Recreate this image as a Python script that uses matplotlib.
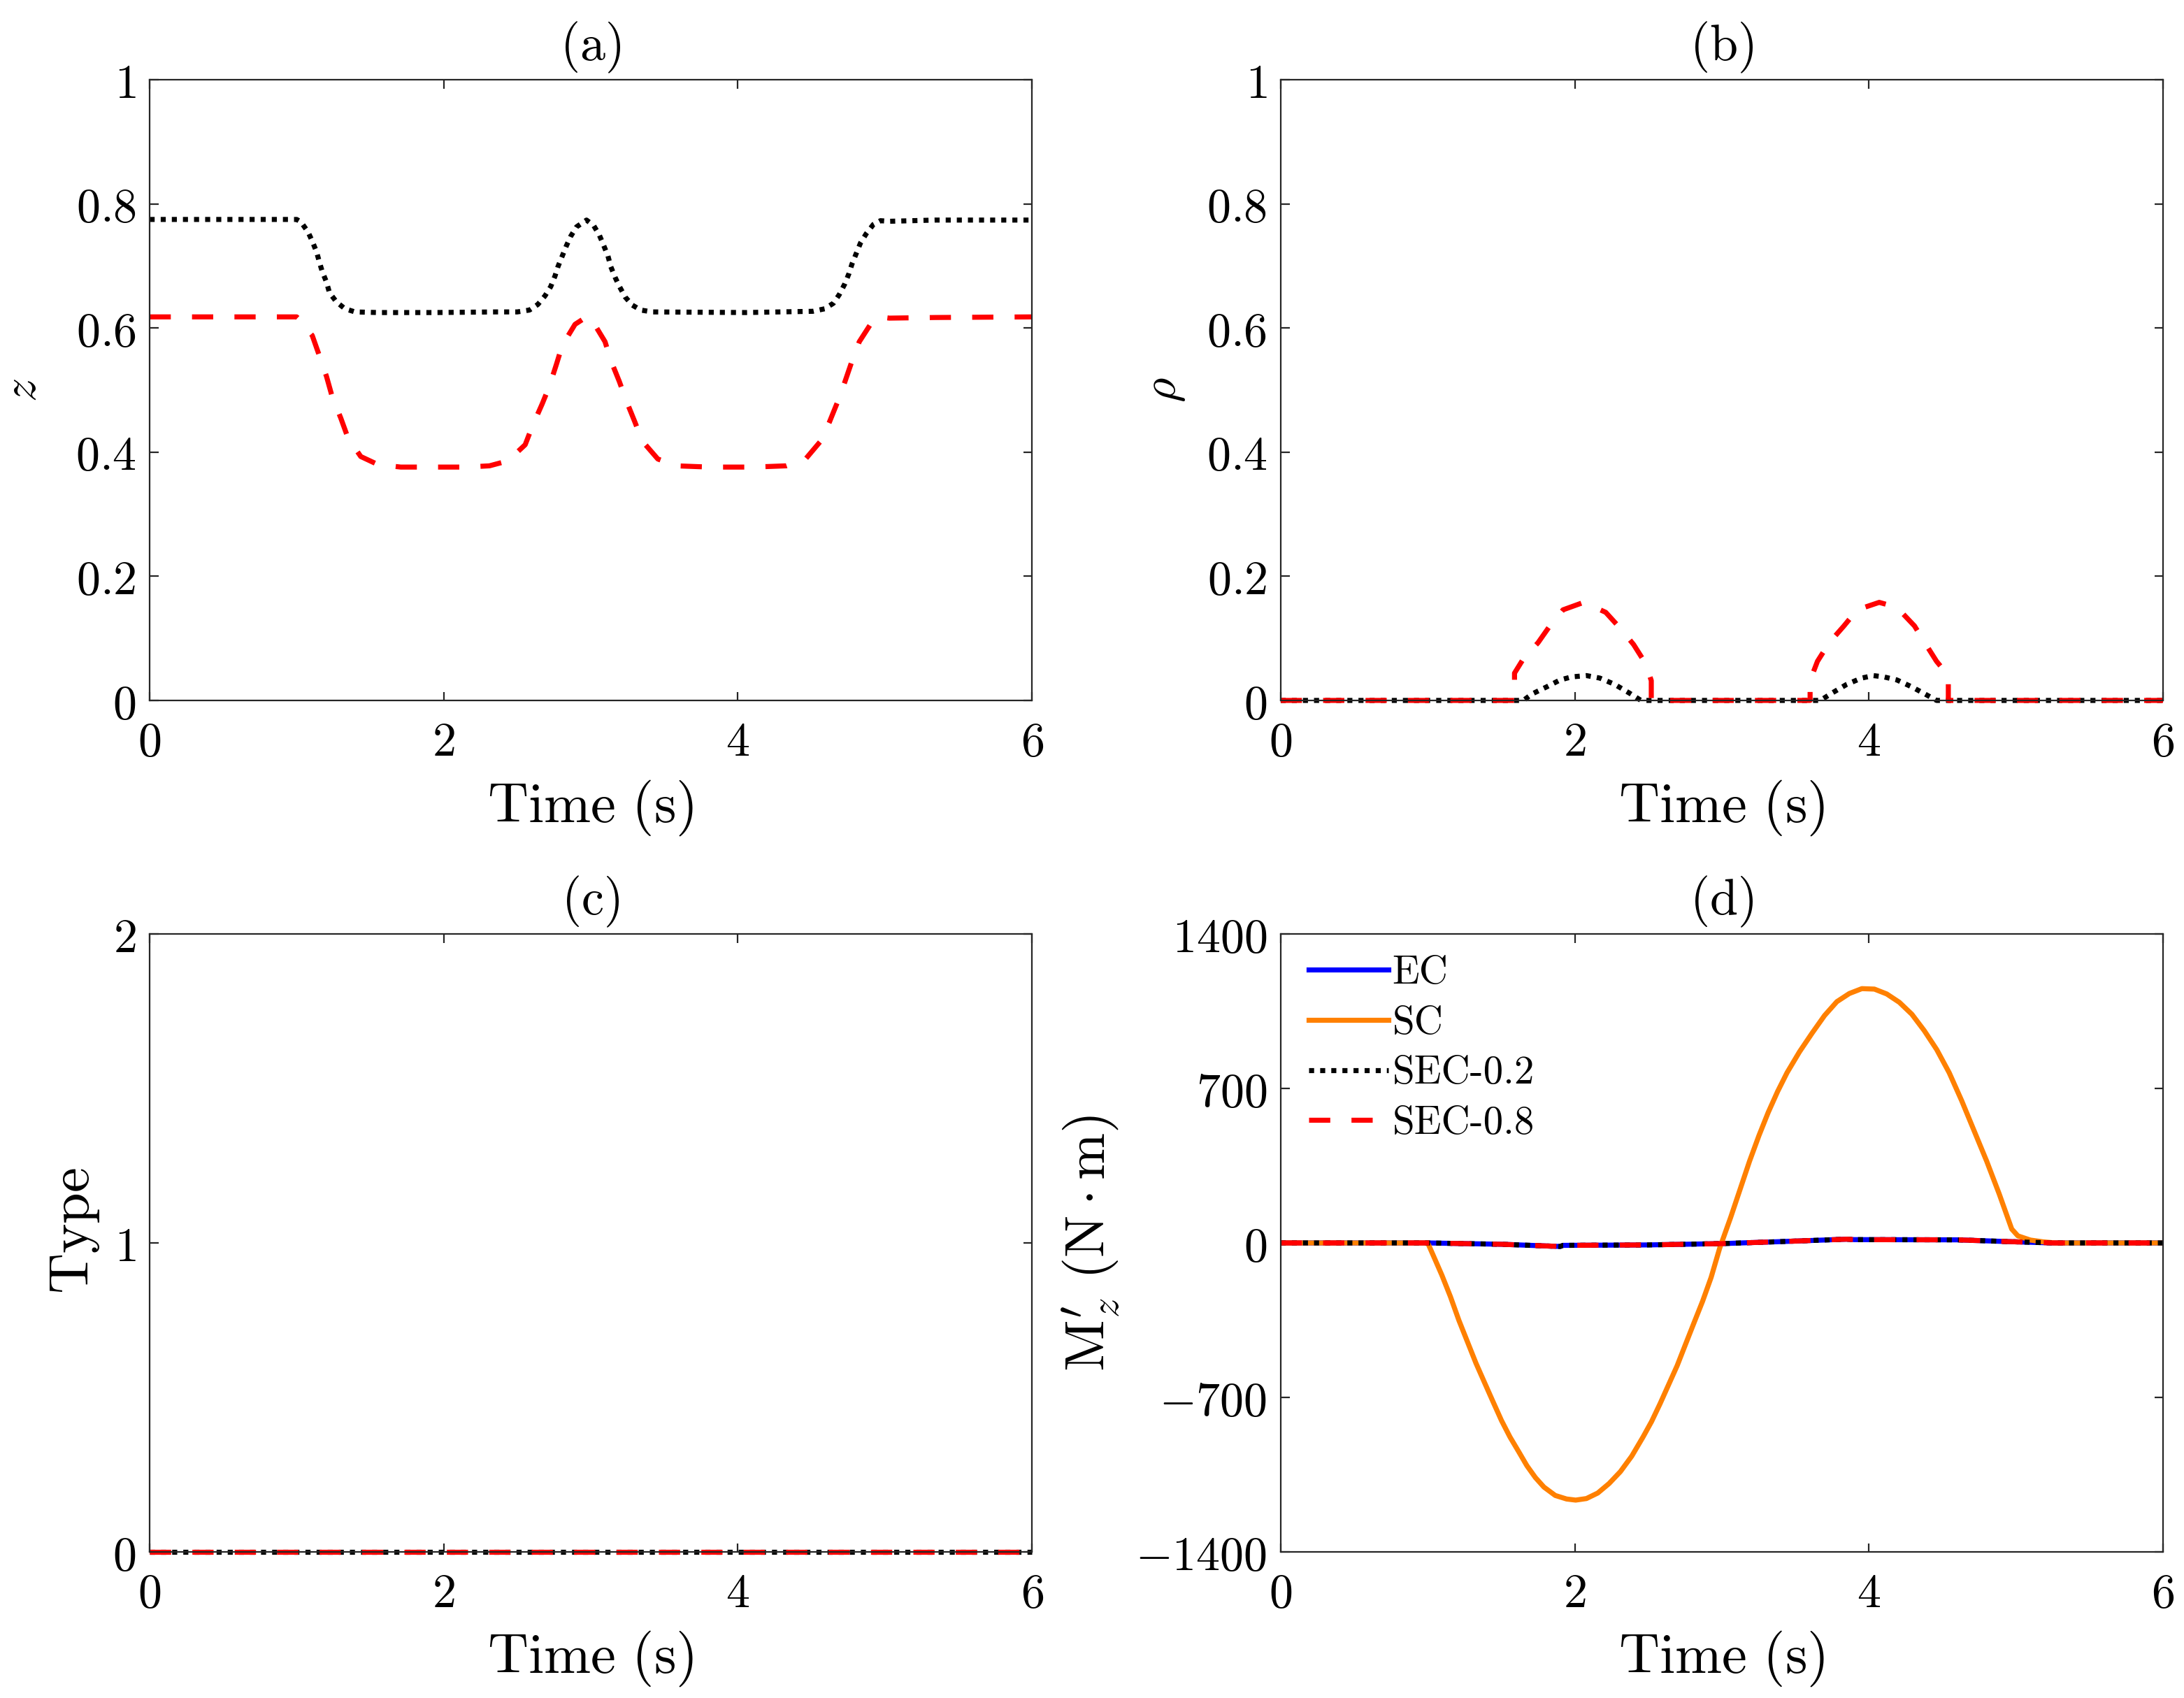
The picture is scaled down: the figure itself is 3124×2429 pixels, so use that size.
import matplotlib
matplotlib.use("Agg")
import matplotlib.pyplot as plt
from matplotlib.font_manager import FontProperties

plt.rcParams['mathtext.fontset'] = 'cm'
plt.rcParams['font.family'] = ['DejaVu Serif']

# ---------------- data ----------------
time_ticks = [0, 2, 4, 6]
time_tick_labels = ['0', '2', '4', '6']

# (a) z
z_sec02_t = [0, 1.0, 1.029, 1.077, 1.106, 1.135, 1.155, 1.174, 1.203, 1.223, 1.271, 1.329, 1.397,
             1.553, 1.94, 2.35, 2.50, 2.583, 2.64, 2.689, 2.728, 2.757, 2.777, 2.806, 2.835, 2.864,
             2.903, 2.971, 3.02, 3.058, 3.088, 3.117, 3.136, 3.165, 3.195, 3.234, 3.282, 3.34,
             3.418, 4.057, 4.51, 4.59, 4.65, 4.69, 4.727, 4.756, 4.776, 4.805, 4.834, 4.873,
             4.922, 4.97, 5.028, 5.34, 6.0]
z_sec02 = [0.775, 0.775, 0.771, 0.755, 0.740, 0.723, 0.706, 0.691, 0.674, 0.657, 0.642, 0.631,
           0.626, 0.625, 0.625, 0.626, 0.626, 0.629, 0.638, 0.652, 0.667, 0.684, 0.699, 0.716,
           0.733, 0.748, 0.763, 0.774, 0.765, 0.750, 0.733, 0.716, 0.699, 0.682, 0.667, 0.650,
           0.637, 0.629, 0.626, 0.625, 0.627, 0.631, 0.640, 0.654, 0.671, 0.688, 0.703, 0.720,
           0.737, 0.752, 0.767, 0.773, 0.772, 0.774, 0.774]
z_sec08_t = [0, 1.0, 1.009, 1.106, 1.155, 1.203, 1.242, 1.300, 1.349, 1.436, 1.553, 1.708, 1.94,
             2.154, 2.311, 2.437, 2.554, 2.603, 2.67, 2.718, 2.767, 2.806, 2.893, 2.971, 3.01,
             3.097, 3.136, 3.194, 3.243, 3.301, 3.35, 3.456, 3.582, 3.805, 4.106, 4.33, 4.457,
             4.564, 4.622, 4.68, 4.729, 4.778, 4.826, 4.913, 4.962, 5.03, 5.34, 6.0]
z_sec08 = [0.618, 0.618, 0.616, 0.588, 0.555, 0.522, 0.489, 0.455, 0.423, 0.393, 0.380, 0.376,
           0.376, 0.376, 0.378, 0.386, 0.412, 0.442, 0.478, 0.506, 0.542, 0.572, 0.606, 0.618,
           0.612, 0.578, 0.548, 0.514, 0.482, 0.448, 0.418, 0.389, 0.378, 0.376, 0.376, 0.378,
           0.388, 0.418, 0.448, 0.482, 0.514, 0.548, 0.578, 0.610, 0.618, 0.616, 0.617, 0.618]
z_ticks = [0, 0.2, 0.4, 0.6, 0.8, 1]
z_tick_labels = ['0', '0.2', '0.4', '0.6', '0.8', '1']

# (b) rho
rho_sec02_t = [0, 1.65, 1.71, 1.81, 1.90, 1.98, 2.08, 2.17, 2.27, 2.37, 2.45,
               3.67, 3.75, 3.85, 3.95, 4.03, 4.10, 4.19, 4.29, 4.38, 4.46, 6.0]
rho_sec02 = [0, 0, 0.0105, 0.022, 0.033, 0.038, 0.040, 0.036, 0.026, 0.012, 0,
             0, 0.012, 0.026, 0.036, 0.040, 0.038, 0.033, 0.022, 0.0105, 0, 0]
rho_sec08_t = [0, 1.59, 1.59, 1.65, 1.75, 1.83, 1.92, 2.06, 2.21, 2.31, 2.40, 2.48, 2.52, 2.52,
               3.60, 3.60, 3.65, 3.73, 3.83, 3.92, 4.07, 4.19, 4.31, 4.38, 4.46, 4.54, 4.54, 6.0]
rho_sec08 = [0, 0, 0.044, 0.067, 0.093, 0.120, 0.146, 0.158, 0.142, 0.116, 0.090, 0.060, 0.032, 0,
             0, 0.032, 0.063, 0.093, 0.120, 0.146, 0.158, 0.150, 0.120, 0.093, 0.063, 0.040, 0, 0]
rho_ticks = z_ticks
rho_tick_labels = z_tick_labels

# (c) Type
type_t = [0, 6]
type_sec02 = [0, 0]
type_sec08 = [0, 0]
type_ticks = [0, 1, 2]
type_tick_labels = ['0', '1', '2']

# (d) Mz'
sc_t = [0, 1.0, 1.039, 1.096, 1.154, 1.212, 1.270, 1.328, 1.385, 1.443, 1.501, 1.559, 1.617,
        1.674, 1.732, 1.790, 1.867, 1.944, 2.006, 2.079, 2.156, 2.233, 2.310, 2.387, 2.464,
        2.522, 2.580, 2.638, 2.696, 2.753, 2.811, 2.869, 2.927, 2.985, 3.060, 3.124, 3.188,
        3.252, 3.315, 3.379, 3.443, 3.528, 3.613, 3.698, 3.782, 3.867, 3.952, 4.037, 4.121,
        4.207, 4.292, 4.376, 4.461, 4.546, 4.631, 4.716, 4.801, 4.886, 4.971, 5.013, 5.098,
        5.183, 5.268, 6.0]
sc = [0, 0, -59, -146, -243, -351, -448, -545, -631, -718, -804, -879, -944, -1009, -1063,
      -1106, -1144, -1160, -1165, -1158, -1133, -1090, -1036, -966, -879, -809, -728, -642,
      -556, -459, -361, -264, -156, -24, 116, 243, 370, 486, 591, 686, 771, 866, 950, 1030,
      1093, 1130, 1152, 1150, 1128, 1090, 1036, 962, 876, 771, 644, 507, 370, 222, 63, 32,
      13, 5, 0, 0]
mz_t = [0, 1.0, 1.5, 1.9, 1.92, 2.5, 3.0, 3.4, 3.85, 3.9, 4.6, 4.95, 5.25, 6.0]
ec = [0, 0, -6, -16, -11, -9, -3, 6, 17, 15, 14, 6, 0, 0]
mz_sec02 = [0, 0, -6, -16, -11, -9, -3, 6, 17, 15, 14, 6, 0, 0]
mz_sec08 = [0, 0, -6, -16, -11, -9, -3, 6, 17, 15, 14, 6, 0, 0]
mz_ticks = [-1400, -700, 0, 700, 1400]
mz_tick_labels = ['-1400', '-700', '0', '700', '1400']

# ---------------- style ----------------
BLUE = '#0000ff'
ORANGE = '#ff8000'
BLACK = '#000000'
RED = '#ff0000'
LW = 2.6
LW_DOT = 2.6
DOT = (0, (1.0, 1.2))
DASH = (0, (4.2, 4.2))
TICK_FS = 24.5
LABEL_FS = 29
TITLE_FS = 26
AXC = '#262626'


def m(s):
    return '$\\mathrm{' + s.replace(' ', '\\ ') + '}$'


fig = plt.figure(figsize=(15.62, 12.145), dpi=200)
pos = {
    'a': [0.0685, 0.5875, 0.404, 0.3655],
    'b': [0.5864, 0.5875, 0.404, 0.3655],
    'c': [0.0685, 0.086, 0.404, 0.364],
    'd': [0.5864, 0.086, 0.404, 0.364],
}
axes = {k: fig.add_axes(v) for k, v in pos.items()}


def style(ax, yticks, ylabels, ylim, title):
    ax.set_xlim(0, 6)
    ax.set_ylim(*ylim)
    ax.set_xticks(time_ticks)
    ax.set_xticklabels([m(t) for t in time_tick_labels])
    ax.set_yticks(yticks)
    ax.set_yticklabels(['$' + t + '$' for t in ylabels])
    ax.tick_params(direction='in', top=True, right=True, length=4.5, width=0.8,
                   labelsize=TICK_FS, color=AXC)
    ax.tick_params(axis='x', pad=10)
    ax.tick_params(axis='y', pad=7)
    for sp in ax.spines.values():
        sp.set_linewidth(0.8)
        sp.set_color(AXC)
    ax.set_title(m(title), fontsize=TITLE_FS, pad=10)
    ax.set_xlabel(m('Time (s)'), fontsize=LABEL_FS)
    ax.xaxis.set_label_coords(0.5, -0.125)


# (a)
ax = axes['a']
ax.plot(z_sec02_t, z_sec02, color=BLACK, lw=LW_DOT, linestyle=DOT)
ax.plot(z_sec08_t, z_sec08, color=RED, lw=LW, linestyle=DASH)
style(ax, z_ticks, z_tick_labels, (0, 1), '(a)')
ax.set_ylabel('$z$', fontsize=TICK_FS)
ax.yaxis.set_label_coords(-0.118, 0.5)

# (b)
ax = axes['b']
ax.plot(rho_sec02_t, rho_sec02, color=BLACK, lw=LW_DOT, linestyle=DOT, clip_on=False)
ax.plot(rho_sec08_t, rho_sec08, color=RED, lw=LW, linestyle=DASH, clip_on=False)
style(ax, rho_ticks, rho_tick_labels, (0, 1), '(b)')
ax.set_ylabel('$\\rho$', fontsize=TICK_FS)
ax.yaxis.set_label_coords(-0.106, 0.5)

# (c)
ax = axes['c']
ax.plot(type_t, type_sec02, color=BLACK, lw=LW_DOT, linestyle=DOT, clip_on=False)
ax.plot(type_t, type_sec08, color=RED, lw=LW, linestyle=DASH, clip_on=False)
style(ax, type_ticks, type_tick_labels, (0, 2), '(c)')
ax.set_ylabel(m('Type'), fontsize=LABEL_FS)
ax.yaxis.set_label_coords(-0.055, 0.52)

# (d)
ax = axes['d']
ax.plot(mz_t, ec, color=BLUE, lw=LW, label='EC')
ax.plot(sc_t, sc, color=ORANGE, lw=LW, label='SC')
ax.plot(mz_t, mz_sec02, color=BLACK, lw=LW_DOT, linestyle=DOT, label='SEC-0.2')
ax.plot(mz_t, mz_sec08, color=RED, lw=LW, linestyle=DASH, label='SEC-0.8')
style(ax, mz_ticks, mz_tick_labels, (-1400, 1400), '(d)')
ax.set_ylabel('$\\mathrm{M}_z^{\\prime}\\ (\\mathrm{N}\\cdot\\mathrm{m})$', fontsize=LABEL_FS)
ax.yaxis.set_label_coords(-0.18, 0.5)
leg = ax.legend(loc='upper left', frameon=False,
                prop=FontProperties(family=['cmr10', 'DejaVu Serif'], size=20.5),
                handlelength=2.0, handletextpad=0.1, labelspacing=0.36, borderaxespad=0.3,
                bbox_to_anchor=(0.0, 1.01))

fig.savefig('out.png', dpi=200)
